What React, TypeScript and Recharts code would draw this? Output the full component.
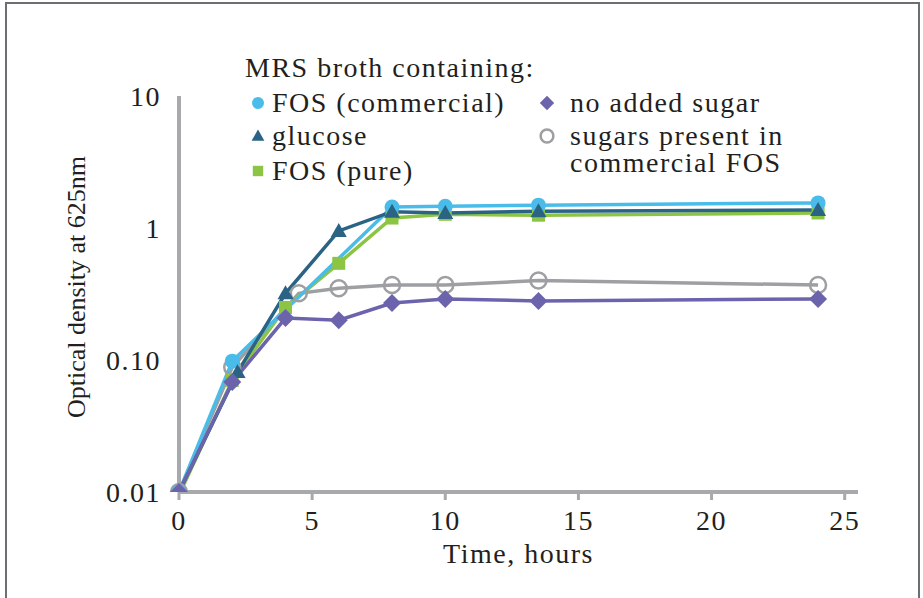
import { LineChart, Line, XAxis, YAxis, Legend } from 'recharts'

// Bacterial growth in MRS broth, optical density at 625nm (log scale)
const xTicks = [0, 5, 10, 15, 20, 25]
const yTicks = [0.01, 0.1, 1, 10]
const yTickLabels = ['0.01', '0.10', '1', '10']

const fosCommercialHours = [0, 2, 8, 10, 13.5, 24]
const fosCommercialOD = [0.01, 0.098, 1.44, 1.46, 1.49, 1.55]

const glucoseHours = [0, 2.2, 4, 6, 8, 10, 13.5, 24]
const glucoseOD = [0.01, 0.081, 0.32, 0.95, 1.33, 1.3, 1.34, 1.37]

const fosPureHours = [0, 2, 4, 6, 8, 10, 13.5, 24]
const fosPureOD = [0.0095, 0.07, 0.25, 0.54, 1.19, 1.27, 1.25, 1.3]

const noSugarHours = [0, 2, 4, 6, 8, 10, 13.5, 24]
const noSugarOD = [0.01, 0.068, 0.208, 0.2, 0.27, 0.29, 0.28, 0.29]

const commercialSugarsHours = [0, 2, 4.5, 6, 8, 10, 13.5, 24]
const commercialSugarsOD = [0.01, 0.088, 0.32, 0.35, 0.37, 0.37, 0.4, 0.37]

const font = '"Liberation Serif", "Times New Roman", serif'
const ink = '#231f20'
const axisGrey = '#a7a9ac'

type Shape = 'circle' | 'triangle' | 'square' | 'diamond' | 'ring'

const toRows = (hours: number[], od: number[]) => hours.map((t, i) => ({ t, od: od[i] }))

// drawing order: bottom -> top
const series = [
  { key: 'sugars', name: 'sugars present in commercial FOS', color: '#9d9fa2', shape: 'ring' as Shape, data: toRows(commercialSugarsHours, commercialSugarsOD) },
  { key: 'pure', name: 'FOS (pure)', color: '#8cc443', shape: 'square' as Shape, data: toRows(fosPureHours, fosPureOD) },
  { key: 'commercial', name: 'FOS (commercial)', color: '#49bce9', shape: 'circle' as Shape, data: toRows(fosCommercialHours, fosCommercialOD) },
  { key: 'glucose', name: 'glucose', color: '#2b6385', shape: 'triangle' as Shape, data: toRows(glucoseHours, glucoseOD) },
  { key: 'none', name: 'no added sugar', color: '#6c63ad', shape: 'diamond' as Shape, data: toRows(noSugarHours, noSugarOD) },
]

function Marker({ shape, color, cx, cy, big = true }: { shape: Shape; color: string; cx: number; cy: number; big?: boolean }) {
  const k = big ? 1 : 0.8
  if (shape === 'circle') return <circle cx={cx} cy={cy} r={7.5 * k} fill={color} />
  if (shape === 'triangle') {
    const s = 8 * k
    return <polygon points={`${cx},${cy - s} ${cx + s},${cy + s * 0.75} ${cx - s},${cy + s * 0.75}`} fill={color} />
  }
  if (shape === 'square') return <rect x={cx - 6.5 * k} y={cy - 6.5 * k} width={13 * k} height={13 * k} fill={color} />
  if (shape === 'diamond') {
    const s = 9 * k
    return <polygon points={`${cx},${cy - s} ${cx + s},${cy} ${cx},${cy + s} ${cx - s},${cy}`} fill={color} />
  }
  return <circle cx={cx} cy={cy} r={8 * k} fill="none" stroke={color} strokeWidth={2.5} />
}

function LegendIcon({ shape, color }: { shape: Shape; color: string }) {
  return (
    <svg width={20} height={20} style={{ position: 'absolute', left: -10, top: -10 }}>
      <Marker shape={shape} color={color} cx={10} cy={10} big={false} />
    </svg>
  )
}

function GrowthLegend() {
  const byKey = Object.fromEntries(series.map((s) => [s.key, s]))
  const item = (key: string, left: number, top: number, width?: number) => {
    const s = byKey[key]
    return (
      <div key={key} style={{ position: 'absolute', left, top }}>
        <div style={{ position: 'absolute', left: 0, top: 0 }}>
          <LegendIcon shape={s.shape} color={s.color} />
        </div>
        <div style={{ position: 'absolute', left: 14 + (key === 'none' || key === 'sugars' ? 9 : 0), top: -14, width: width ?? 400, lineHeight: '27px', whiteSpace: width ? 'normal' : 'nowrap' }}>
          {s.name}
        </div>
      </div>
    )
  }
  return (
    <div style={{ position: 'relative', width: 600, height: 150, fontSize: 28, color: ink, fontFamily: font, letterSpacing: '1.5px' }}>
      <div style={{ position: 'absolute', left: 2, top: 1, lineHeight: '34px', whiteSpace: 'nowrap' }}>MRS broth containing:</div>
      {item('commercial', 15, 53)}
      {item('glucose', 15, 86)}
      {item('pure', 15, 121)}
      {item('none', 304, 53)}
      {item('sugars', 304, 86, 230)}
    </div>
  )
}

export default function App() {
  return (
    <div style={{ position: 'absolute', left: 0, top: 0, width: 923, height: 598, overflow: 'hidden', background: '#fff', fontFamily: font, letterSpacing: '1.5px' }}>
      <div style={{ position: 'absolute', left: 5, top: 2, width: 911, height: 640, border: '2px solid #6d6e71' }} />
      <LineChart width={923} height={598} margin={{ top: 96, right: 65, bottom: 0, left: 0 }}>
        <XAxis
          type="number"
          dataKey="t"
          domain={[0, 25.5]}
          ticks={xTicks}
          allowDuplicatedCategory={false}
          height={106}
          axisLine={{ stroke: axisGrey, strokeWidth: 4 }}
          tickLine={{ stroke: axisGrey, strokeWidth: 3 }}
          tickSize={8}
          tickMargin={10}
          tick={{ fill: ink, fontSize: 28 }}
          label={{ value: 'Time, hours', position: 'insideBottom', offset: 35, fontSize: 28, fill: ink }}
        />
        <YAxis
          type="number"
          scale="log"
          domain={[0.01, 10]}
          ticks={yTicks}
          allowDataOverflow
          width={179}
          axisLine={{ stroke: axisGrey, strokeWidth: 4 }}
          tickLine={false}
          tickSize={0}
          tickMargin={18}
          tick={{ fill: ink, fontSize: 28 }}
          tickFormatter={(v: number) => yTickLabels[yTicks.indexOf(v)] ?? String(v)}
          label={{
            content: () => (
              <text x={85} y={287} transform="rotate(-90 85 287)" textAnchor="middle" fontSize={26} fill={ink} style={{ letterSpacing: 0 }}>
                Optical density at 625nm
              </text>
            ),
          }}
        />
        <Legend
          layout="vertical"
          align="center"
          verticalAlign="middle"
          content={() => <GrowthLegend />}
          wrapperStyle={{ left: 243, top: 50, width: 600, height: 150 }}
        />
        {series.map((s) => (
          <Line
            key={s.key}
            data={s.data}
            dataKey="od"
            name={s.name}
            type="linear"
            stroke={s.color}
            strokeWidth={3.5}
            isAnimationActive={false}
            dot={(p: any) => <Marker key={`${s.key}-${p.index}`} shape={s.shape} color={s.color} cx={p.cx} cy={p.cy} />}
            activeDot={false}
          />
        ))}
      </LineChart>
    </div>
  )
}
